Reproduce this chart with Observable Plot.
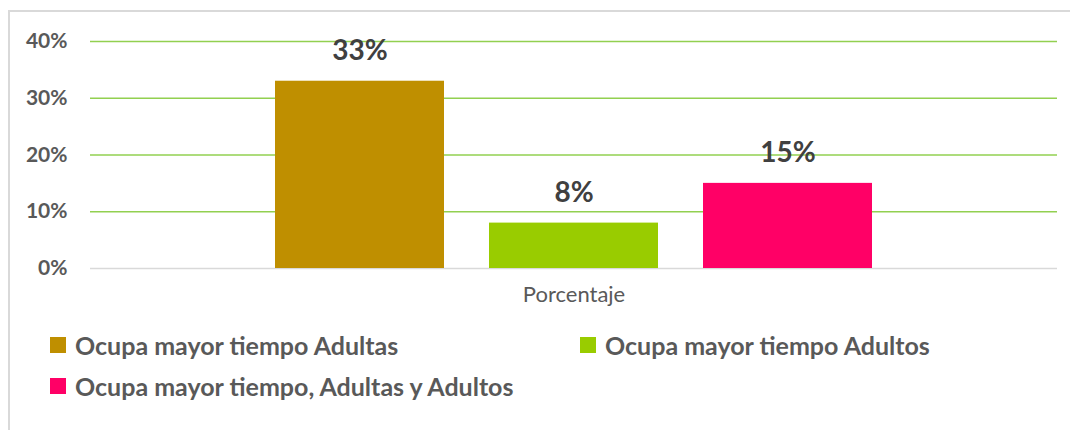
<!DOCTYPE html>
<html>
<head>
<meta charset="utf-8">
<script src="https://cdn.jsdelivr.net/npm/d3@7"></script>
<script src="https://cdn.jsdelivr.net/npm/@observablehq/plot@0.6"></script>
<style>
  html, body { margin: 0; padding: 0; background: #fff; }
  body { width: 1070px; height: 430px; position: relative; overflow: hidden; font-family: Lato, "Open Sans", sans-serif; }
  #frame { position: absolute; left: 8px; top: 10px; width: 1062px; height: 420px; border-top: 2px solid #d9d9d9; border-left: 2px solid #d9d9d9; box-sizing: border-box; }
  #chart { position: absolute; left: 0; top: 0; }
  .legend-item { position: absolute; display: flex; align-items: center; height: 30px; font-weight: bold; font-size: 25px; color: #595959; white-space: nowrap; }
  .swatch { width: 16px; height: 16px; margin-right: 9px; flex: none; }
</style>
</head>
<body>
<div id="frame"></div>
<div id="chart"></div>
<div id="legend"></div>
<script>
const group = "Porcentaje";
const series = ["Ocupa mayor tiempo Adultas", "Ocupa mayor tiempo Adultos", "Ocupa mayor tiempo, Adultas y Adultos"];
const values = [33, 8, 15];
const colors = ["#BF8F00", "#99CC00", "#FF0066"];
const yTicks = [0, 10, 20, 30, 40];

const data = series.map((s, i) => ({group, series: s, value: values[i]}));

const chart = Plot.plot({
  width: 1070,
  height: 320,
  marginLeft: 90,
  marginRight: 13,
  marginTop: 41,
  marginBottom: 52,
  style: {fontFamily: "Lato, 'Open Sans', sans-serif", background: "transparent"},
  fx: {domain: [group], padding: 0, label: null},
  x: {domain: series, paddingInner: 0.21, paddingOuter: 0.86, axis: null},
  y: {domain: [0, 40]},
  color: {domain: series, range: colors},
  marks: [
    Plot.ruleY(yTicks.filter(d => d > 0), {stroke: "#92D050", strokeWidth: 1.5}),
    Plot.ruleY([0], {stroke: "#d9d9d9", strokeWidth: 1.5}),
    Plot.barY(data, {fx: "group", x: "series", y: "value", fill: "series"}),
    Plot.text(data, {fx: "group", x: "series", y: "value", text: d => d.value + "%", dy: -30, fontSize: 28, fontWeight: "bold", fill: "#404040"}),
    Plot.axisY({ticks: yTicks, tickFormat: d => d + "%", tickSize: 0, tickPadding: 23, fontSize: 21, fontWeight: "bold", fill: "#595959", label: null}),
    Plot.axisFx({anchor: "bottom", tickSize: 0, tickPadding: 18, fontSize: 22, fill: "#595959", label: null})
  ]
});
document.getElementById("chart").append(chart);

const legendPos = [[50, 345], [580, 345], [50, 386]];
const legend = document.getElementById("legend");
series.forEach((s, i) => {
  const item = document.createElement("div");
  item.className = "legend-item";
  item.style.left = legendPos[i][0] + "px";
  item.style.top = (legendPos[i][1] - 15) + "px";
  const sw = document.createElement("span");
  sw.className = "swatch";
  sw.style.background = colors[i];
  const tx = document.createElement("span");
  tx.textContent = s;
  item.append(sw, tx);
  legend.append(item);
});
</script>
</body>
</html>
